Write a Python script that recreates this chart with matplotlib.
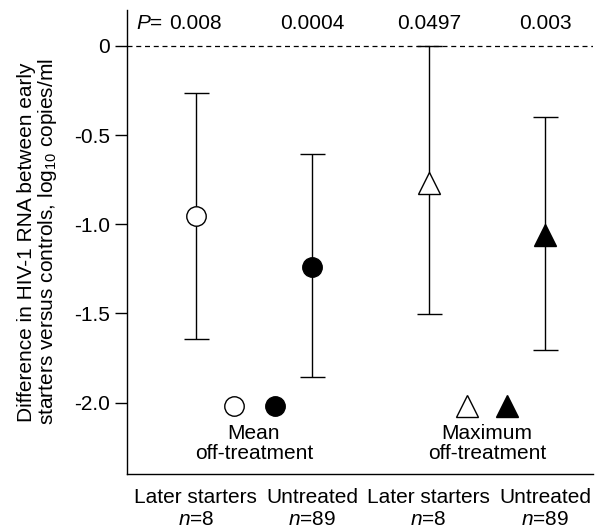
import matplotlib
matplotlib.use("Agg")
import matplotlib.pyplot as plt

plt.rcParams['font.family'] = ['Liberation Sans', 'DejaVu Sans']
plt.rcParams['mathtext.fontset'] = 'custom'
plt.rcParams['mathtext.rm'] = 'Liberation Sans'
plt.rcParams['mathtext.it'] = 'Liberation Sans:italic'

# data
groups = ["Later starters", "Untreated", "Later starters", "Untreated"]
n_values = [8, 89, 8, 89]
means = [-0.955, -1.24, -0.77, -1.06]
upper = [-0.265, -0.605, 0.0, -0.40]
lower = [-1.642, -1.857, -1.505, -1.705]
p_values = ["0.008", "0.0004", "0.0497", "0.003"]
markers = ["o", "o", "^", "^"]
facecolors = ["white", "black", "white", "black"]
y_ticks = [0, -0.5, -1.0, -1.5, -2.0]
y_ticklabels = ["0", "-0.5", "-1.0", "-1.5", "-2.0"]

FS = 15

fig = plt.figure(figsize=(5.98, 5.32), dpi=100)
ax = fig.add_axes([0.2124, 0.109, 0.7792, 0.872])

xs = [1, 2, 3, 4]
ax.axhline(0, color='black', lw=0.9, ls=(0, (4, 3)), zorder=1)

for x, m, u, l, mk, fc in zip(xs, means, upper, lower, markers, facecolors):
    ax.errorbar([x], [m], yerr=[[m - l], [u - m]], fmt='none', ecolor='black',
                elinewidth=1.0, capsize=9, capthick=1.0, zorder=2)
    ms = 14 if mk == 'o' else 16
    ax.plot([x], [m], marker=mk, markersize=ms, markerfacecolor=fc,
            markeredgecolor='black', markeredgewidth=1.0, ls='none', zorder=3)

# in-plot key
for kx, mk, fc in [(1.33, 'o', 'white'), (1.68, 'o', 'black'),
                   (3.33, '^', 'white'), (3.67, '^', 'black')]:
    ms = 14 if mk == 'o' else 16
    ax.plot([kx], [-2.02], marker=mk, markersize=ms, markerfacecolor=fc,
            markeredgecolor='black', markeredgewidth=1.0, ls='none', clip_on=False)
ax.text(1.5, -2.12, "Mean\noff-treatment", ha='center', va='top', fontsize=FS,
        linespacing=1.05)
ax.text(3.5, -2.12, "Maximum\noff-treatment", ha='center', va='top', fontsize=FS,
        linespacing=1.05)

# P values
for x, p in zip(xs, p_values):
    ax.text(x, 0.123, p, ha='center', va='center', fontsize=FS)
ax.text(1 - 0.28, 0.123, "$P$=", ha='right', va='center', fontsize=FS)

ax.set_xlim(0.41, 4.41)
ax.set_ylim(-2.4, 0.2)
ax.set_yticks(y_ticks)
ax.set_yticklabels(y_ticklabels, fontsize=FS)
ax.set_xticks(xs)
ax.set_xticklabels([f"{g}\n$n$={n}" for g, n in zip(groups, n_values)], fontsize=FS,
                   linespacing=1.22)
ax.tick_params(axis='x', length=0, pad=10)
ax.tick_params(axis='y', length=9, width=1.0, direction='out', pad=3)

ax.spines['top'].set_visible(False)
ax.spines['right'].set_visible(False)
ax.spines['left'].set_linewidth(1.0)
ax.spines['bottom'].set_linewidth(1.0)

ax.set_ylabel("Difference in HIV-1 RNA between early\nstarters versus controls, log$_{10}$ copies/ml",
              fontsize=FS, linespacing=1.0, labelpad=11)

fig.savefig("out.png", dpi=100)
